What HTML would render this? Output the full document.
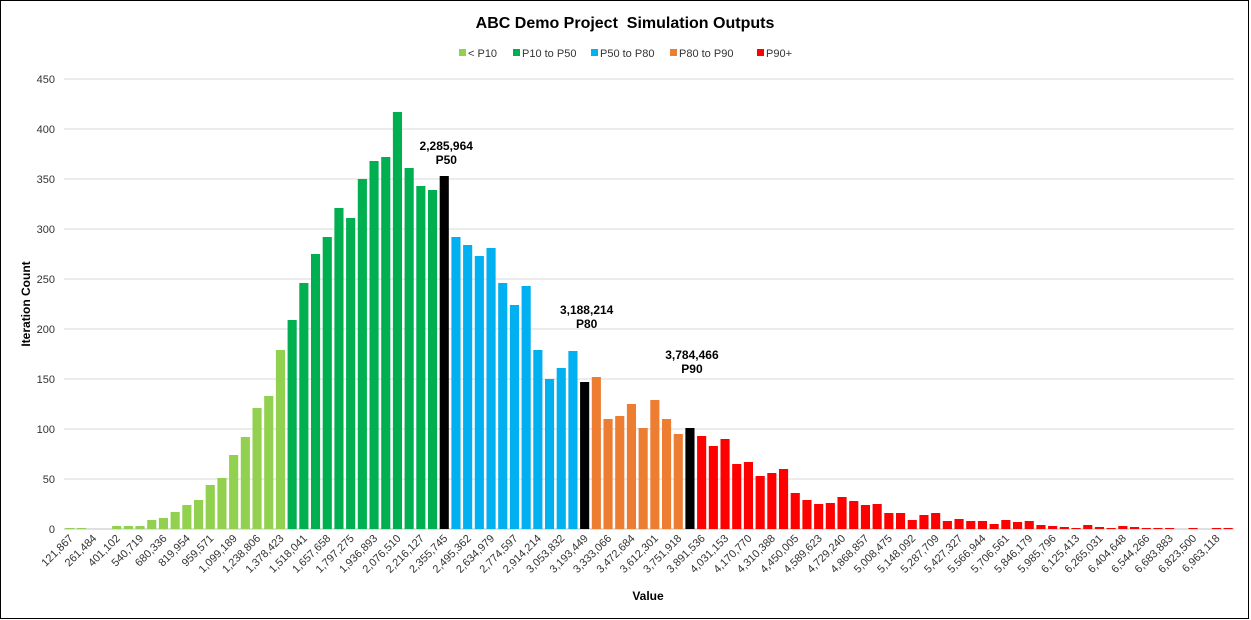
<!DOCTYPE html>
<html><head><meta charset="utf-8"><style>
body{margin:0;background:#fff}
svg{display:block;font-family:"Liberation Sans",Arial,sans-serif}
</style></head><body>
<svg id="c" width="1251" height="620">
<rect x="0.5" y="0.5" width="1248" height="618" fill="#fff" stroke="#000"/>
<text x="625" y="28" text-anchor="middle" font-size="16" font-weight="bold">ABC Demo Project &#160;Simulation Outputs</text>
<g id="legend" font-size="11" fill="#333"></g>
<g id="grid"></g><g id="bars"></g><g id="ylab" font-size="11" fill="#333"></g><g id="xlab" font-size="11" fill="#333"></g><g id="ann" font-size="12" font-weight="bold"></g>
<text transform="translate(30,304) rotate(-90)" text-anchor="middle" font-size="12" font-weight="bold">Iteration Count</text>
<text x="648" y="600" text-anchor="middle" font-size="12" font-weight="bold">Value</text>
</svg>
<script>
const counts=[1,1,0,0,3,3,3,9,11,17,24,29,44,51,74,92,121,133,179,209,246,275,292,321,311,350,368,372,417,361,343,339,353,292,284,273,281,246,224,243,179,150,161,178,147,152,110,113,125,101,129,110,95,101,93,83,90,65,67,53,56,60,36,29,25,26,32,28,24,25,16,16,9,14,16,8,10,8,8,5,9,7,8,4,3,2,1,4,2,1,3,2,1,1,1,0,1,0,1,1];
const binStart=121867, binStep=69808.68;
const yTicks=[0,50,100,150,200,250,300,350,400,450];
const p10End=18, p50Index=32, p80Index=44, p90Index=53;
const markerLabels=["2,285,964","3,188,214","3,784,466"];
const markerNames=["P50","P80","P90"];
const markerLabelLevels=[379,215,170];
const legendNames=["< P10","P10 to P50","P50 to P80","P80 to P90","P90+"];
const legendColors=["#92d050","#00b050","#00b0f0","#ed7d31","#ff0000"];
const NS="http://www.w3.org/2000/svg";
const L=64,R=1234,Y0=529,pxPer=1;
const step=(R-L)/counts.length;
const xc=i=>L+step*(i+0.5);
const y=v=>Y0-v*pxPer;
function mk(t,a,p){const e=document.createElementNS(NS,t);for(const k in a)e.setAttribute(k,a[k]);document.getElementById(p).appendChild(e);return e;}
yTicks.forEach(t=>{
 const g=mk('line',{x1:L,x2:R,y1:y(t),y2:y(t),stroke:t===0?'#bfbfbf':'#d9d9d9','stroke-width':1},'grid');
 
 
 const tx=mk('text',{x:55,y:y(t)+4,'text-anchor':'end'},'ylab');tx.textContent=t;
 
 
});
function col(i){if(i===p50Index||i===p80Index||i===p90Index)return'#000';if(i<=p10End)return legendColors[0];if(i<p50Index)return legendColors[1];if(i<p80Index)return legendColors[2];if(i<p90Index)return legendColors[3];return legendColors[4];}
const bw=step*0.78;
counts.forEach((v,i)=>{
 const b=mk('rect',{x:xc(i)-bw/2,y:y(v),width:bw,height:v*pxPer,fill:col(i)},'bars');
 
 
 if(i%2===0){
  const val=Math.round(binStart+binStep*i);
  const tx=mk('text',{'text-anchor':'end',transform:`translate(${xc(i)+4},${Y0+10}) rotate(-45)`},'xlab');
  tx.textContent=val.toLocaleString('en-US');
  
  
 }
});
[p50Index,p80Index,p90Index].forEach((idx,k)=>{
 const top=y(markerLabelLevels[k]);
 const a=mk('text',{x:xc(idx)+2,y:top,'text-anchor':'middle'},'ann');a.textContent=markerLabels[k];
 
 
 const b=mk('text',{x:xc(idx)+2,y:top+14,'text-anchor':'middle'},'ann');b.textContent=markerNames[k];
 
 
});
const lx=[459,513,591,670,757];
legendNames.forEach((n,i)=>{
 const r=mk('rect',{x:lx[i],y:49,width:7,height:7,fill:legendColors[i]},'legend');
 
 
 const t=mk('text',{x:lx[i]+9,y:57},'legend');t.textContent=n;
 
 
});
</script>
</body></html>
